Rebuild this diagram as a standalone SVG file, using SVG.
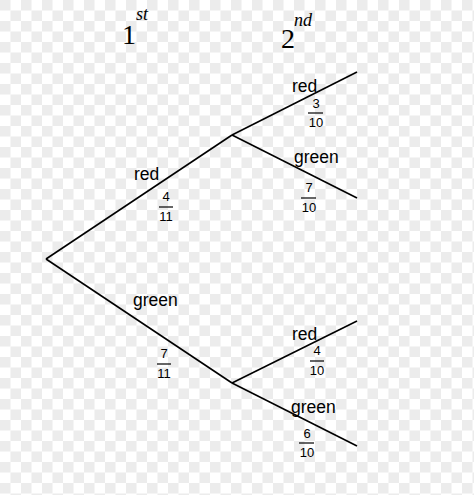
<svg xmlns="http://www.w3.org/2000/svg" width="474" height="495" viewBox="0 0 474 495">
<defs>
<pattern id="chk" width="21" height="21" patternUnits="userSpaceOnUse">
<rect width="21" height="21" fill="#ffffff"/>
<rect width="10.5" height="10.5" fill="#ececec"/>
<rect x="10.5" y="10.5" width="10.5" height="10.5" fill="#ececec"/>
</pattern>
</defs>
<style>
.e{stroke:#000;stroke-width:1.6;fill:none}
.l{font-family:"Liberation Sans",Arial,sans-serif;font-size:17.5px;fill:#000}
.n{font-family:"Liberation Sans",Arial,sans-serif;font-size:13px;fill:#000;text-anchor:middle}
.b{stroke:#000;stroke-width:1.2}
.h{font-family:"Liberation Serif","Times New Roman",serif;font-size:28px;fill:#000}
.s{font-family:"Liberation Serif","Times New Roman",serif;font-size:18px;font-style:italic;fill:#000}
</style>
<rect width="474" height="495" fill="url(#chk)"/>
<g id="headers">
<text class="h" x="122" y="44">1</text><text class="s" x="136" y="20">st</text>
<text class="h" x="281" y="48">2</text><text class="s" x="294" y="26">nd</text>
</g>
<g id="connectors">
<line class="e" x1="46" y1="259" x2="232" y2="135"/>
<line class="e" x1="46" y1="259" x2="232" y2="383"/>
<line class="e" x1="232" y1="135" x2="357" y2="72"/>
<line class="e" x1="232" y1="135" x2="357" y2="198"/>
<line class="e" x1="232" y1="383" x2="357" y2="321"/>
<line class="e" x1="232" y1="383" x2="357" y2="446"/>
</g>
<g id="red1">
<text class="l" x="134" y="180">red</text>
<text class="n" x="166" y="201">4</text><line class="b" x1="159" y1="207" x2="173" y2="207"/><text class="n" x="166" y="221">11</text>
</g>
<g id="green1">
<text class="l" x="133" y="306">green</text>
<text class="n" x="164" y="358">7</text><line class="b" x1="157" y1="364" x2="171" y2="364"/><text class="n" x="164" y="378">11</text>
</g>
<g id="red2a">
<text class="l" x="292" y="92">red</text>
<text class="n" x="316" y="108">3</text><line class="b" x1="308" y1="113" x2="323" y2="113"/><text class="n" x="316" y="127">10</text>
</g>
<g id="green2a">
<text class="l" x="294" y="163">green</text>
<text class="n" x="309" y="192">7</text><line class="b" x1="301" y1="198" x2="316" y2="198"/><text class="n" x="309" y="212">10</text>
</g>
<g id="red2b">
<text class="l" x="292" y="340">red</text>
<text class="n" x="317" y="355">4</text><line class="b" x1="310" y1="361" x2="324" y2="361"/><text class="n" x="317" y="375">10</text>
</g>
<g id="green2b">
<text class="l" x="291" y="413">green</text>
<text class="n" x="307" y="438">6</text><line class="b" x1="299" y1="443" x2="314" y2="443"/><text class="n" x="307" y="457">10</text>
</g>
</svg>
